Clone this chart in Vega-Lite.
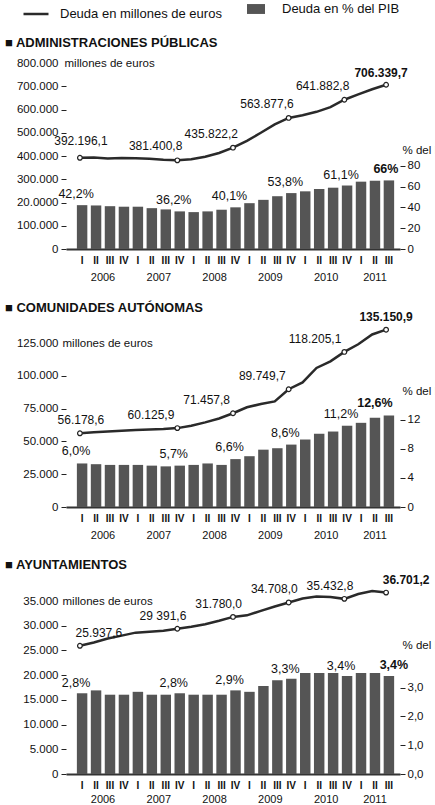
{
  "$schema": "https://vega.github.io/schema/vega-lite/v6.json",
  "autosize": {"type": "pad"},
  "padding": {"left": 5, "top": 0, "right": 0, "bottom": 0},
  "background": "white",
  "bounds": "flush",
  "spacing": 94,
  "config": {
    "font": "Liberation Sans",
    "view": {"stroke": null},
    "locale": {"number": {"decimal": ",", "thousands": ".", "grouping": [3], "currency": ["", " €"]}},
    "axis": {"labelFont": "Liberation Sans", "titleFont": "Liberation Sans", "labelColor": "#111", "titleColor": "#111", "tickColor": "#222", "grid": false},
    "text": {"font": "Liberation Sans", "color": "#111"},
    "title": {"font": "Liberation Sans", "fontSize": 13, "fontWeight": "bold", "color": "#111", "anchor": "start", "frame": "group", "dx": -61}
  },
  "datasets": {
    "admin": [
      {"q":"2006-I","t":"I","a":"2006","deuda":392196.1,"pib":42.2,"etq":"392.196,1","etqPib":"42,2%"},
      {"q":"2006-II","t":"II","a":"2006","deuda":393500,"pib":41.9},
      {"q":"2006-III","t":"III","a":"2006","deuda":389000,"pib":41.2},
      {"q":"2006-IV","t":"IV","a":"2006","deuda":391000,"pib":40.7},
      {"q":"2007-I","t":"I","a":"2007","deuda":390000,"pib":40.7},
      {"q":"2007-II","t":"II","a":"2007","deuda":388500,"pib":39.3},
      {"q":"2007-III","t":"III","a":"2007","deuda":384000,"pib":38.1},
      {"q":"2007-IV","t":"IV","a":"2007","deuda":381400.8,"pib":36.2,"etq":"381.400,8","etqPib":"36,2%"},
      {"q":"2008-I","t":"I","a":"2008","deuda":386000,"pib":35.5},
      {"q":"2008-II","t":"II","a":"2008","deuda":397000,"pib":36.2},
      {"q":"2008-III","t":"III","a":"2008","deuda":413000,"pib":37.8},
      {"q":"2008-IV","t":"IV","a":"2008","deuda":435822.2,"pib":40.1,"etq":"435.822,2","etqPib":"40,1%"},
      {"q":"2009-I","t":"I","a":"2009","deuda":465000,"pib":44.1},
      {"q":"2009-II","t":"II","a":"2009","deuda":500000,"pib":47.3},
      {"q":"2009-III","t":"III","a":"2009","deuda":536000,"pib":50.8},
      {"q":"2009-IV","t":"IV","a":"2009","deuda":563877.6,"pib":53.8,"etq":"563.877,6","etqPib":"53,8%"},
      {"q":"2010-I","t":"I","a":"2010","deuda":575000,"pib":55.5},
      {"q":"2010-II","t":"II","a":"2010","deuda":590000,"pib":57.8},
      {"q":"2010-III","t":"III","a":"2010","deuda":610000,"pib":59.0},
      {"q":"2010-IV","t":"IV","a":"2010","deuda":641882.8,"pib":61.1,"etq":"641.882,8","etqPib":"61,1%"},
      {"q":"2011-I","t":"I","a":"2011","deuda":665000,"pib":64.8},
      {"q":"2011-II","t":"II","a":"2011","deuda":687000,"pib":65.7},
      {"q":"2011-III","t":"III","a":"2011","deuda":706339.7,"pib":66.0,"etq":"706.339,7","etqPib":"66%"}
    ],
    "ccaa": [
      {"q":"2006-I","t":"I","a":"2006","deuda":56178.6,"pib":6.0,"etq":"56.178,6","etqPib":"6,0%"},
      {"q":"2006-II","t":"II","a":"2006","deuda":57000,"pib":5.9},
      {"q":"2006-III","t":"III","a":"2006","deuda":57500,"pib":5.8},
      {"q":"2006-IV","t":"IV","a":"2006","deuda":58200,"pib":5.8},
      {"q":"2007-I","t":"I","a":"2007","deuda":58600,"pib":5.8},
      {"q":"2007-II","t":"II","a":"2007","deuda":59000,"pib":5.7},
      {"q":"2007-III","t":"III","a":"2007","deuda":59400,"pib":5.6},
      {"q":"2007-IV","t":"IV","a":"2007","deuda":60125.9,"pib":5.7,"etq":"60.125,9","etqPib":"5,7%"},
      {"q":"2008-I","t":"I","a":"2008","deuda":62000,"pib":5.8},
      {"q":"2008-II","t":"II","a":"2008","deuda":64500,"pib":6.0},
      {"q":"2008-III","t":"III","a":"2008","deuda":67500,"pib":5.8},
      {"q":"2008-IV","t":"IV","a":"2008","deuda":71457.8,"pib":6.6,"etq":"71.457,8","etqPib":"6,6%"},
      {"q":"2009-I","t":"I","a":"2009","deuda":76000,"pib":7.0},
      {"q":"2009-II","t":"II","a":"2009","deuda":78500,"pib":7.9},
      {"q":"2009-III","t":"III","a":"2009","deuda":80500,"pib":8.1},
      {"q":"2009-IV","t":"IV","a":"2009","deuda":89749.7,"pib":8.6,"etq":"89.749,7","etqPib":"8,6%"},
      {"q":"2010-I","t":"I","a":"2010","deuda":95000,"pib":9.3},
      {"q":"2010-II","t":"II","a":"2010","deuda":106000,"pib":10.1},
      {"q":"2010-III","t":"III","a":"2010","deuda":111000,"pib":10.4},
      {"q":"2010-IV","t":"IV","a":"2010","deuda":118205.1,"pib":11.2,"etq":"118.205,1","etqPib":"11,2%"},
      {"q":"2011-I","t":"I","a":"2011","deuda":124000,"pib":11.6},
      {"q":"2011-II","t":"II","a":"2011","deuda":131500,"pib":12.3},
      {"q":"2011-III","t":"III","a":"2011","deuda":135150.9,"pib":12.6,"etq":"135.150,9","etqPib":"12,6%"}
    ],
    "ayto": [
      {"q":"2006-I","t":"I","a":"2006","deuda":25937.6,"pib":2.8,"etq":"25.937,6","etqPib":"2,8%"},
      {"q":"2006-II","t":"II","a":"2006","deuda":26600,"pib":2.9},
      {"q":"2006-III","t":"III","a":"2006","deuda":27400,"pib":2.75},
      {"q":"2006-IV","t":"IV","a":"2006","deuda":28000,"pib":2.75},
      {"q":"2007-I","t":"I","a":"2007","deuda":28600,"pib":2.85},
      {"q":"2007-II","t":"II","a":"2007","deuda":28800,"pib":2.75},
      {"q":"2007-III","t":"III","a":"2007","deuda":29000,"pib":2.75},
      {"q":"2007-IV","t":"IV","a":"2007","deuda":29391.6,"pib":2.8,"etq":"29 391,6","etqPib":"2,8%"},
      {"q":"2008-I","t":"I","a":"2008","deuda":29800,"pib":2.75},
      {"q":"2008-II","t":"II","a":"2008","deuda":30300,"pib":2.75},
      {"q":"2008-III","t":"III","a":"2008","deuda":31000,"pib":2.75},
      {"q":"2008-IV","t":"IV","a":"2008","deuda":31780.0,"pib":2.9,"etq":"31.780,0","etqPib":"2,9%"},
      {"q":"2009-I","t":"I","a":"2009","deuda":32100,"pib":2.85},
      {"q":"2009-II","t":"II","a":"2009","deuda":33000,"pib":3.05},
      {"q":"2009-III","t":"III","a":"2009","deuda":33900,"pib":3.25},
      {"q":"2009-IV","t":"IV","a":"2009","deuda":34708.0,"pib":3.3,"etq":"34.708,0","etqPib":"3,3%"},
      {"q":"2010-I","t":"I","a":"2010","deuda":35500,"pib":3.5},
      {"q":"2010-II","t":"II","a":"2010","deuda":35900,"pib":3.5},
      {"q":"2010-III","t":"III","a":"2010","deuda":35800,"pib":3.5},
      {"q":"2010-IV","t":"IV","a":"2010","deuda":35432.8,"pib":3.4,"etq":"35.432,8","etqPib":"3,4%"},
      {"q":"2011-I","t":"I","a":"2011","deuda":36400,"pib":3.5},
      {"q":"2011-II","t":"II","a":"2011","deuda":37000,"pib":3.5},
      {"q":"2011-III","t":"III","a":"2011","deuda":36701.2,"pib":3.4,"etq":"36.701,2","etqPib":"3,4%"}
    ]
  },
  "vconcat": [
    {
      "width": 334, "height": 186,
      "title": {"text": "■ ADMINISTRACIONES PÚBLICAS", "offset": 7},
      "data": {"name": "admin"},
      "resolve": {"scale": {"x": "independent", "y": "independent"}},
      "layer": [
        {
          "mark": {"type": "bar", "color": "#555"},
          "encoding": {
            "x": {"field": "q", "type": "nominal", "scale": {"type": "band", "domain": ["2006-I","2006-II","2006-III","2006-IV","2007-I","2007-II","2007-III","2007-IV","2008-I","2008-II","2008-III","2008-IV","2009-I","2009-II","2009-III","2009-IV","2010-I","2010-II","2010-III","2010-IV","2011-I","2011-II","2011-III"], "paddingInner": 0.25, "paddingOuter": 0.6, "align": 0.65},
              "axis": {"title": null, "labelExpr": "split(datum.value, '-')[1]", "ticks": false, "domain": true, "domainColor": "#333", "domainWidth": 2, "labelPadding": 6, "labelFontSize": 10, "labelFontWeight": "bold", "labelAngle": 0}},
            "y": {"field": "pib", "type": "quantitative", "scale": {"domain": [0, 179], "nice": false},
              "axis": {"orient": "right", "values": [0, 20, 40, 60, 80], "format": "d", "title": "% del PIB", "titleAngle": 0, "titleAlign": "left", "titleBaseline": "middle", "titleX": 2, "titleY": 87, "titleFontSize": 11.5, "titleFontWeight": "normal", "domain": false, "tickSize": 5, "labelPadding": 2, "labelFontSize": 11.5}},
            "fill": {"datum": "Deuda en % del PIB", "type": "nominal", "scale": {"range": ["#555"]},
              "legend": {"orient": "none", "legendX": 181, "legendY": -63, "title": null, "symbolType": "M-1,-0.55H1V0.55H-1Z", "symbolSize": 324, "symbolStrokeWidth": 0, "labelFontSize": 13, "labelOffset": 17, "labelLimit": 300, "labelColor": "#111", "labelFont": "Liberation Sans"}}
          }
        },
        {
          "transform": [{"filter": "datum.etqPib && datum.q != '2011-III'"}],
          "mark": {"type": "text", "align": "center", "baseline": "middle", "dx": -6, "dy": -11, "fontSize": 12.5},
          "encoding": {
            "x": {"field": "q", "type": "nominal", "scale": {"type": "band", "domain": ["2006-I","2006-II","2006-III","2006-IV","2007-I","2007-II","2007-III","2007-IV","2008-I","2008-II","2008-III","2008-IV","2009-I","2009-II","2009-III","2009-IV","2010-I","2010-II","2010-III","2010-IV","2011-I","2011-II","2011-III"], "paddingInner": 0.25, "paddingOuter": 0.6, "align": 0.65}, "axis": null},
            "y": {"field": "pib", "type": "quantitative", "scale": {"domain": [0, 179], "nice": false}, "axis": null},
            "text": {"field": "etqPib"}
          }
        },
        {
          "transform": [{"filter": "datum.q == '2011-III'"}],
          "mark": {"type": "text", "align": "center", "baseline": "middle", "dx": -3, "dy": -11, "fontSize": 12.5, "fontWeight": "bold"},
          "encoding": {
            "x": {"field": "q", "type": "nominal", "scale": {"type": "band", "domain": ["2006-I","2006-II","2006-III","2006-IV","2007-I","2007-II","2007-III","2007-IV","2008-I","2008-II","2008-III","2008-IV","2009-I","2009-II","2009-III","2009-IV","2010-I","2010-II","2010-III","2010-IV","2011-I","2011-II","2011-III"], "paddingInner": 0.25, "paddingOuter": 0.6, "align": 0.65}, "axis": null},
            "y": {"field": "pib", "type": "quantitative", "scale": {"domain": [0, 179], "nice": false}, "axis": null},
            "text": {"field": "etqPib"}
          }
        },
        {
          "transform": [{"filter": "datum.t == 'III' && datum.a != '2011'"}],
          "mark": {"type": "text", "align": "center", "baseline": "middle", "dx": -7, "dy": 29, "fontSize": 11},
          "encoding": {
            "x": {"field": "q", "type": "nominal", "scale": {"type": "band", "domain": ["2006-I","2006-II","2006-III","2006-IV","2007-I","2007-II","2007-III","2007-IV","2008-I","2008-II","2008-III","2008-IV","2009-I","2009-II","2009-III","2009-IV","2010-I","2010-II","2010-III","2010-IV","2011-I","2011-II","2011-III"], "paddingInner": 0.25, "paddingOuter": 0.6, "align": 0.65}, "axis": null},
            "y": {"datum": 0, "type": "quantitative", "scale": {"domain": [0, 179], "nice": false}, "axis": null},
            "text": {"field": "a"}
          }
        },
        {
          "transform": [{"filter": "datum.q == '2011-II'"}],
          "mark": {"type": "text", "align": "center", "baseline": "middle", "dy": 29, "fontSize": 11},
          "encoding": {
            "x": {"field": "q", "type": "nominal", "scale": {"type": "band", "domain": ["2006-I","2006-II","2006-III","2006-IV","2007-I","2007-II","2007-III","2007-IV","2008-I","2008-II","2008-III","2008-IV","2009-I","2009-II","2009-III","2009-IV","2010-I","2010-II","2010-III","2010-IV","2011-I","2011-II","2011-III"], "paddingInner": 0.25, "paddingOuter": 0.6, "align": 0.65}, "axis": null},
            "y": {"datum": 0, "type": "quantitative", "scale": {"domain": [0, 179], "nice": false}, "axis": null},
            "text": {"field": "a"}
          }
        },
        {
          "mark": {"type": "line", "strokeWidth": 2.5, "color": "#2a2a2a"},
          "encoding": {
            "x": {"field": "q", "type": "nominal", "scale": {"type": "point", "domain": ["2006-I","2006-II","2006-III","2006-IV","2007-I","2007-II","2007-III","2007-IV","2008-I","2008-II","2008-III","2008-IV","2009-I","2009-II","2009-III","2009-IV","2010-I","2010-II","2010-III","2010-IV","2011-I","2011-II","2011-III"], "padding": 1.33}, "axis": null},
            "y": {"field": "deuda", "type": "quantitative", "scale": {"domain": [0, 800000], "nice": false},
              "axis": {"orient": "left", "values": [0, 100000, 200000, 300000, 400000, 500000, 600000, 700000, 800000], "format": ",.0f", "labelExpr": "datum.value == 200000 ? '20.0000' : datum.label", "title": "millones de euros", "titleAngle": 0, "titleAlign": "left", "titleBaseline": "middle", "titleX": -2, "titleY": 0, "titleFontSize": 11.5, "titleFontWeight": "normal", "domain": false, "tickSize": 5, "labelPadding": 3, "labelFontSize": 11.5, "tickOpacity": {"condition": {"test": "datum.value == 800000", "value": 0}, "value": 1}}},
            "stroke": {"datum": "Deuda en millones de euros", "type": "nominal", "scale": {"range": ["#2a2a2a"]},
              "legend": {"orient": "none", "legendX": -44, "legendY": -63, "title": null, "symbolType": "stroke", "symbolSize": 625, "symbolStrokeWidth": 2.5, "labelFontSize": 13, "labelOffset": 10, "labelLimit": 300, "labelColor": "#111", "labelFont": "Liberation Sans"}}
          }
        },
        {
          "transform": [{"filter": "datum.etq"}],
          "mark": {"type": "point", "shape": "circle", "filled": true, "fill": "white", "stroke": "#222", "strokeWidth": 1.2, "size": 22, "opacity": 1},
          "encoding": {
            "x": {"field": "q", "type": "nominal", "scale": {"type": "point", "domain": ["2006-I","2006-II","2006-III","2006-IV","2007-I","2007-II","2007-III","2007-IV","2008-I","2008-II","2008-III","2008-IV","2009-I","2009-II","2009-III","2009-IV","2010-I","2010-II","2010-III","2010-IV","2011-I","2011-II","2011-III"], "padding": 1.33}, "axis": null},
            "y": {"field": "deuda", "type": "quantitative", "scale": {"domain": [0, 800000], "nice": false}, "axis": null}
          }
        },
        {
          "transform": [{"filter": "datum.etq && datum.q != '2006-I' && datum.q != '2011-III'"}],
          "mark": {"type": "text", "align": "right", "baseline": "middle", "dx": 5, "dy": -14, "fontSize": 12},
          "encoding": {
            "x": {"field": "q", "type": "nominal", "scale": {"type": "point", "domain": ["2006-I","2006-II","2006-III","2006-IV","2007-I","2007-II","2007-III","2007-IV","2008-I","2008-II","2008-III","2008-IV","2009-I","2009-II","2009-III","2009-IV","2010-I","2010-II","2010-III","2010-IV","2011-I","2011-II","2011-III"], "padding": 1.33}, "axis": null},
            "y": {"field": "deuda", "type": "quantitative", "scale": {"domain": [0, 800000], "nice": false}, "axis": null},
            "text": {"field": "etq"}
          }
        },
        {
          "transform": [{"filter": "datum.q == '2006-I'"}],
          "mark": {"type": "text", "align": "center", "baseline": "middle", "dx": 1, "dy": -17, "fontSize": 12},
          "encoding": {
            "x": {"field": "q", "type": "nominal", "scale": {"type": "point", "domain": ["2006-I","2006-II","2006-III","2006-IV","2007-I","2007-II","2007-III","2007-IV","2008-I","2008-II","2008-III","2008-IV","2009-I","2009-II","2009-III","2009-IV","2010-I","2010-II","2010-III","2010-IV","2011-I","2011-II","2011-III"], "padding": 1.33}, "axis": null},
            "y": {"field": "deuda", "type": "quantitative", "scale": {"domain": [0, 800000], "nice": false}, "axis": null},
            "text": {"field": "etq"}
          }
        },
        {
          "transform": [{"filter": "datum.q == '2011-III'"}],
          "mark": {"type": "text", "align": "center", "baseline": "middle", "dx": -5, "dy": -12, "fontSize": 12, "fontWeight": "bold"},
          "encoding": {
            "x": {"field": "q", "type": "nominal", "scale": {"type": "point", "domain": ["2006-I","2006-II","2006-III","2006-IV","2007-I","2007-II","2007-III","2007-IV","2008-I","2008-II","2008-III","2008-IV","2009-I","2009-II","2009-III","2009-IV","2010-I","2010-II","2010-III","2010-IV","2011-I","2011-II","2011-III"], "padding": 1.33}, "axis": null},
            "y": {"field": "deuda", "type": "quantitative", "scale": {"domain": [0, 800000], "nice": false}, "axis": null},
            "text": {"field": "etq"}
          }
        }
      ]
    },
    {
      "width": 334, "height": 164,
      "title": {"text": "■ COMUNIDADES AUTÓNOMAS", "offset": -4},
      "data": {"name": "ccaa"},
      "resolve": {"scale": {"x": "independent", "y": "independent"}},
      "layer": [
        {
          "mark": {"type": "bar", "color": "#555"},
          "encoding": {
            "x": {"field": "q", "type": "nominal", "scale": {"type": "band", "domain": ["2006-I","2006-II","2006-III","2006-IV","2007-I","2007-II","2007-III","2007-IV","2008-I","2008-II","2008-III","2008-IV","2009-I","2009-II","2009-III","2009-IV","2010-I","2010-II","2010-III","2010-IV","2011-I","2011-II","2011-III"], "paddingInner": 0.25, "paddingOuter": 0.6, "align": 0.65},
              "axis": {"title": null, "labelExpr": "split(datum.value, '-')[1]", "ticks": false, "domain": true, "domainColor": "#333", "domainWidth": 2, "labelPadding": 6, "labelFontSize": 10, "labelFontWeight": "bold", "labelAngle": 0}},
            "y": {"field": "pib", "type": "quantitative", "scale": {"domain": [0, 22.6], "nice": false},
              "axis": {"orient": "right", "values": [0, 4, 8, 12], "format": "d", "title": "% del PIB", "titleAngle": 0, "titleAlign": "left", "titleBaseline": "middle", "titleX": 2, "titleY": 48, "titleFontSize": 11.5, "titleFontWeight": "normal", "domain": false, "tickSize": 5, "labelPadding": 2, "labelFontSize": 11.5}}
          }
        },
        {
          "transform": [{"filter": "datum.etqPib && datum.q != '2011-III'"}],
          "mark": {"type": "text", "align": "center", "baseline": "middle", "dx": -6, "dy": -12, "fontSize": 12.5},
          "encoding": {
            "x": {"field": "q", "type": "nominal", "scale": {"type": "band", "domain": ["2006-I","2006-II","2006-III","2006-IV","2007-I","2007-II","2007-III","2007-IV","2008-I","2008-II","2008-III","2008-IV","2009-I","2009-II","2009-III","2009-IV","2010-I","2010-II","2010-III","2010-IV","2011-I","2011-II","2011-III"], "paddingInner": 0.25, "paddingOuter": 0.6, "align": 0.65}, "axis": null},
            "y": {"field": "pib", "type": "quantitative", "scale": {"domain": [0, 22.6], "nice": false}, "axis": null},
            "text": {"field": "etqPib"}
          }
        },
        {
          "transform": [{"filter": "datum.q == '2011-III'"}],
          "mark": {"type": "text", "align": "center", "baseline": "middle", "dx": -14, "dy": -13, "fontSize": 12.5, "fontWeight": "bold"},
          "encoding": {
            "x": {"field": "q", "type": "nominal", "scale": {"type": "band", "domain": ["2006-I","2006-II","2006-III","2006-IV","2007-I","2007-II","2007-III","2007-IV","2008-I","2008-II","2008-III","2008-IV","2009-I","2009-II","2009-III","2009-IV","2010-I","2010-II","2010-III","2010-IV","2011-I","2011-II","2011-III"], "paddingInner": 0.25, "paddingOuter": 0.6, "align": 0.65}, "axis": null},
            "y": {"field": "pib", "type": "quantitative", "scale": {"domain": [0, 22.6], "nice": false}, "axis": null},
            "text": {"field": "etqPib"}
          }
        },
        {
          "transform": [{"filter": "datum.t == 'III' && datum.a != '2011'"}],
          "mark": {"type": "text", "align": "center", "baseline": "middle", "dx": -7, "dy": 29, "fontSize": 11},
          "encoding": {
            "x": {"field": "q", "type": "nominal", "scale": {"type": "band", "domain": ["2006-I","2006-II","2006-III","2006-IV","2007-I","2007-II","2007-III","2007-IV","2008-I","2008-II","2008-III","2008-IV","2009-I","2009-II","2009-III","2009-IV","2010-I","2010-II","2010-III","2010-IV","2011-I","2011-II","2011-III"], "paddingInner": 0.25, "paddingOuter": 0.6, "align": 0.65}, "axis": null},
            "y": {"datum": 0, "type": "quantitative", "scale": {"domain": [0, 22.6], "nice": false}, "axis": null},
            "text": {"field": "a"}
          }
        },
        {
          "transform": [{"filter": "datum.q == '2011-II'"}],
          "mark": {"type": "text", "align": "center", "baseline": "middle", "dy": 29, "fontSize": 11},
          "encoding": {
            "x": {"field": "q", "type": "nominal", "scale": {"type": "band", "domain": ["2006-I","2006-II","2006-III","2006-IV","2007-I","2007-II","2007-III","2007-IV","2008-I","2008-II","2008-III","2008-IV","2009-I","2009-II","2009-III","2009-IV","2010-I","2010-II","2010-III","2010-IV","2011-I","2011-II","2011-III"], "paddingInner": 0.25, "paddingOuter": 0.6, "align": 0.65}, "axis": null},
            "y": {"datum": 0, "type": "quantitative", "scale": {"domain": [0, 22.6], "nice": false}, "axis": null},
            "text": {"field": "a"}
          }
        },
        {
          "mark": {"type": "line", "strokeWidth": 2.5, "color": "#2a2a2a"},
          "encoding": {
            "x": {"field": "q", "type": "nominal", "scale": {"type": "point", "domain": ["2006-I","2006-II","2006-III","2006-IV","2007-I","2007-II","2007-III","2007-IV","2008-I","2008-II","2008-III","2008-IV","2009-I","2009-II","2009-III","2009-IV","2010-I","2010-II","2010-III","2010-IV","2011-I","2011-II","2011-III"], "padding": 1.33}, "axis": null},
            "y": {"field": "deuda", "type": "quantitative", "scale": {"domain": [0, 125000], "nice": false},
              "axis": {"orient": "left", "values": [0, 25000, 50000, 75000, 100000, 125000], "format": ",.0f", "title": "millones de euros", "titleAngle": 0, "titleAlign": "left", "titleBaseline": "middle", "titleX": -4, "titleY": 0, "titleFontSize": 11.5, "titleFontWeight": "normal", "domain": false, "tickSize": 5, "labelPadding": 3, "labelFontSize": 11.5, "tickOpacity": {"condition": {"test": "datum.value == 125000", "value": 0}, "value": 1}}}
          }
        },
        {
          "transform": [{"filter": "datum.etq"}],
          "mark": {"type": "point", "shape": "circle", "filled": true, "fill": "white", "stroke": "#222", "strokeWidth": 1.2, "size": 22, "opacity": 1},
          "encoding": {
            "x": {"field": "q", "type": "nominal", "scale": {"type": "point", "domain": ["2006-I","2006-II","2006-III","2006-IV","2007-I","2007-II","2007-III","2007-IV","2008-I","2008-II","2008-III","2008-IV","2009-I","2009-II","2009-III","2009-IV","2010-I","2010-II","2010-III","2010-IV","2011-I","2011-II","2011-III"], "padding": 1.33}, "axis": null},
            "y": {"field": "deuda", "type": "quantitative", "scale": {"domain": [0, 125000], "nice": false}, "axis": null}
          }
        },
        {
          "transform": [{"filter": "datum.etq && datum.q != '2006-I' && datum.q != '2011-III'"}],
          "mark": {"type": "text", "align": "right", "baseline": "middle", "dx": -3, "dy": -13, "fontSize": 12},
          "encoding": {
            "x": {"field": "q", "type": "nominal", "scale": {"type": "point", "domain": ["2006-I","2006-II","2006-III","2006-IV","2007-I","2007-II","2007-III","2007-IV","2008-I","2008-II","2008-III","2008-IV","2009-I","2009-II","2009-III","2009-IV","2010-I","2010-II","2010-III","2010-IV","2011-I","2011-II","2011-III"], "padding": 1.33}, "axis": null},
            "y": {"field": "deuda", "type": "quantitative", "scale": {"domain": [0, 125000], "nice": false}, "axis": null},
            "text": {"field": "etq"}
          }
        },
        {
          "transform": [{"filter": "datum.q == '2006-I'"}],
          "mark": {"type": "text", "align": "center", "baseline": "middle", "dx": 1, "dy": -13, "fontSize": 12},
          "encoding": {
            "x": {"field": "q", "type": "nominal", "scale": {"type": "point", "domain": ["2006-I","2006-II","2006-III","2006-IV","2007-I","2007-II","2007-III","2007-IV","2008-I","2008-II","2008-III","2008-IV","2009-I","2009-II","2009-III","2009-IV","2010-I","2010-II","2010-III","2010-IV","2011-I","2011-II","2011-III"], "padding": 1.33}, "axis": null},
            "y": {"field": "deuda", "type": "quantitative", "scale": {"domain": [0, 125000], "nice": false}, "axis": null},
            "text": {"field": "etq"}
          }
        },
        {
          "transform": [{"filter": "datum.q == '2011-III'"}],
          "mark": {"type": "text", "align": "center", "baseline": "middle", "dx": 0, "dy": -13, "fontSize": 12, "fontWeight": "bold"},
          "encoding": {
            "x": {"field": "q", "type": "nominal", "scale": {"type": "point", "domain": ["2006-I","2006-II","2006-III","2006-IV","2007-I","2007-II","2007-III","2007-IV","2008-I","2008-II","2008-III","2008-IV","2009-I","2009-II","2009-III","2009-IV","2010-I","2010-II","2010-III","2010-IV","2011-I","2011-II","2011-III"], "padding": 1.33}, "axis": null},
            "y": {"field": "deuda", "type": "quantitative", "scale": {"domain": [0, 125000], "nice": false}, "axis": null},
            "text": {"field": "etq"}
          }
        }
      ]
    },
    {
      "width": 334, "height": 173,
      "title": {"text": "■ AYUNTAMIENTOS", "offset": 2},
      "data": {"name": "ayto"},
      "resolve": {"scale": {"x": "independent", "y": "independent"}},
      "layer": [
        {
          "mark": {"type": "bar", "color": "#555"},
          "encoding": {
            "x": {"field": "q", "type": "nominal", "scale": {"type": "band", "domain": ["2006-I","2006-II","2006-III","2006-IV","2007-I","2007-II","2007-III","2007-IV","2008-I","2008-II","2008-III","2008-IV","2009-I","2009-II","2009-III","2009-IV","2010-I","2010-II","2010-III","2010-IV","2011-I","2011-II","2011-III"], "paddingInner": 0.25, "paddingOuter": 0.6, "align": 0.65},
              "axis": {"title": null, "labelExpr": "split(datum.value, '-')[1]", "ticks": false, "domain": true, "domainColor": "#333", "domainWidth": 2, "labelPadding": 6, "labelFontSize": 10, "labelFontWeight": "bold", "labelAngle": 0}},
            "y": {"field": "pib", "type": "quantitative", "scale": {"domain": [0, 6], "nice": false},
              "axis": {"orient": "right", "values": [0, 1, 2, 3], "format": ".1f", "title": "% del PIB", "titleAngle": 0, "titleAlign": "left", "titleBaseline": "middle", "titleX": 2, "titleY": 44, "titleFontSize": 11.5, "titleFontWeight": "normal", "domain": false, "tickSize": 5, "labelPadding": 2, "labelFontSize": 11.5}}
          }
        },
        {
          "transform": [{"filter": "datum.etqPib && datum.q != '2011-III'"}],
          "mark": {"type": "text", "align": "center", "baseline": "middle", "dx": -6, "dy": -10, "fontSize": 12.5},
          "encoding": {
            "x": {"field": "q", "type": "nominal", "scale": {"type": "band", "domain": ["2006-I","2006-II","2006-III","2006-IV","2007-I","2007-II","2007-III","2007-IV","2008-I","2008-II","2008-III","2008-IV","2009-I","2009-II","2009-III","2009-IV","2010-I","2010-II","2010-III","2010-IV","2011-I","2011-II","2011-III"], "paddingInner": 0.25, "paddingOuter": 0.6, "align": 0.65}, "axis": null},
            "y": {"field": "pib", "type": "quantitative", "scale": {"domain": [0, 6], "nice": false}, "axis": null},
            "text": {"field": "etqPib"}
          }
        },
        {
          "transform": [{"filter": "datum.q == '2011-III'"}],
          "mark": {"type": "text", "align": "center", "baseline": "middle", "dx": 5, "dy": -11, "fontSize": 12.5, "fontWeight": "bold"},
          "encoding": {
            "x": {"field": "q", "type": "nominal", "scale": {"type": "band", "domain": ["2006-I","2006-II","2006-III","2006-IV","2007-I","2007-II","2007-III","2007-IV","2008-I","2008-II","2008-III","2008-IV","2009-I","2009-II","2009-III","2009-IV","2010-I","2010-II","2010-III","2010-IV","2011-I","2011-II","2011-III"], "paddingInner": 0.25, "paddingOuter": 0.6, "align": 0.65}, "axis": null},
            "y": {"field": "pib", "type": "quantitative", "scale": {"domain": [0, 6], "nice": false}, "axis": null},
            "text": {"field": "etqPib"}
          }
        },
        {
          "transform": [{"filter": "datum.t == 'III' && datum.a != '2011'"}],
          "mark": {"type": "text", "align": "center", "baseline": "middle", "dx": -7, "dy": 26, "fontSize": 11},
          "encoding": {
            "x": {"field": "q", "type": "nominal", "scale": {"type": "band", "domain": ["2006-I","2006-II","2006-III","2006-IV","2007-I","2007-II","2007-III","2007-IV","2008-I","2008-II","2008-III","2008-IV","2009-I","2009-II","2009-III","2009-IV","2010-I","2010-II","2010-III","2010-IV","2011-I","2011-II","2011-III"], "paddingInner": 0.25, "paddingOuter": 0.6, "align": 0.65}, "axis": null},
            "y": {"datum": 0, "type": "quantitative", "scale": {"domain": [0, 6], "nice": false}, "axis": null},
            "text": {"field": "a"}
          }
        },
        {
          "transform": [{"filter": "datum.q == '2011-II'"}],
          "mark": {"type": "text", "align": "center", "baseline": "middle", "dy": 26, "fontSize": 11},
          "encoding": {
            "x": {"field": "q", "type": "nominal", "scale": {"type": "band", "domain": ["2006-I","2006-II","2006-III","2006-IV","2007-I","2007-II","2007-III","2007-IV","2008-I","2008-II","2008-III","2008-IV","2009-I","2009-II","2009-III","2009-IV","2010-I","2010-II","2010-III","2010-IV","2011-I","2011-II","2011-III"], "paddingInner": 0.25, "paddingOuter": 0.6, "align": 0.65}, "axis": null},
            "y": {"datum": 0, "type": "quantitative", "scale": {"domain": [0, 6], "nice": false}, "axis": null},
            "text": {"field": "a"}
          }
        },
        {
          "mark": {"type": "line", "strokeWidth": 2.5, "color": "#2a2a2a"},
          "encoding": {
            "x": {"field": "q", "type": "nominal", "scale": {"type": "point", "domain": ["2006-I","2006-II","2006-III","2006-IV","2007-I","2007-II","2007-III","2007-IV","2008-I","2008-II","2008-III","2008-IV","2009-I","2009-II","2009-III","2009-IV","2010-I","2010-II","2010-III","2010-IV","2011-I","2011-II","2011-III"], "padding": 1.33}, "axis": null},
            "y": {"field": "deuda", "type": "quantitative", "scale": {"domain": [0, 35000], "nice": false},
              "axis": {"orient": "left", "values": [0, 5000, 10000, 15000, 20000, 25000, 30000, 35000], "format": ",.0f", "title": "millones de euros", "titleAngle": 0, "titleAlign": "left", "titleBaseline": "middle", "titleX": -4, "titleY": 0, "titleFontSize": 11.5, "titleFontWeight": "normal", "domain": false, "tickSize": 5, "labelPadding": 3, "labelFontSize": 11.5, "tickOpacity": {"condition": {"test": "datum.value == 35000", "value": 0}, "value": 1}}}
          }
        },
        {
          "transform": [{"filter": "datum.etq"}],
          "mark": {"type": "point", "shape": "circle", "filled": true, "fill": "white", "stroke": "#222", "strokeWidth": 1.2, "size": 22, "opacity": 1},
          "encoding": {
            "x": {"field": "q", "type": "nominal", "scale": {"type": "point", "domain": ["2006-I","2006-II","2006-III","2006-IV","2007-I","2007-II","2007-III","2007-IV","2008-I","2008-II","2008-III","2008-IV","2009-I","2009-II","2009-III","2009-IV","2010-I","2010-II","2010-III","2010-IV","2011-I","2011-II","2011-III"], "padding": 1.33}, "axis": null},
            "y": {"field": "deuda", "type": "quantitative", "scale": {"domain": [0, 35000], "nice": false}, "axis": null}
          }
        },
        {
          "transform": [{"filter": "datum.etq && datum.q != '2006-I' && datum.q != '2011-III'"}],
          "mark": {"type": "text", "align": "right", "baseline": "middle", "dx": 9, "dy": -13, "fontSize": 12},
          "encoding": {
            "x": {"field": "q", "type": "nominal", "scale": {"type": "point", "domain": ["2006-I","2006-II","2006-III","2006-IV","2007-I","2007-II","2007-III","2007-IV","2008-I","2008-II","2008-III","2008-IV","2009-I","2009-II","2009-III","2009-IV","2010-I","2010-II","2010-III","2010-IV","2011-I","2011-II","2011-III"], "padding": 1.33}, "axis": null},
            "y": {"field": "deuda", "type": "quantitative", "scale": {"domain": [0, 35000], "nice": false}, "axis": null},
            "text": {"field": "etq"}
          }
        },
        {
          "transform": [{"filter": "datum.q == '2006-I'"}],
          "mark": {"type": "text", "align": "center", "baseline": "middle", "dx": 19, "dy": -13, "fontSize": 12},
          "encoding": {
            "x": {"field": "q", "type": "nominal", "scale": {"type": "point", "domain": ["2006-I","2006-II","2006-III","2006-IV","2007-I","2007-II","2007-III","2007-IV","2008-I","2008-II","2008-III","2008-IV","2009-I","2009-II","2009-III","2009-IV","2010-I","2010-II","2010-III","2010-IV","2011-I","2011-II","2011-III"], "padding": 1.33}, "axis": null},
            "y": {"field": "deuda", "type": "quantitative", "scale": {"domain": [0, 35000], "nice": false}, "axis": null},
            "text": {"field": "etq"}
          }
        },
        {
          "transform": [{"filter": "datum.q == '2011-III'"}],
          "mark": {"type": "text", "align": "center", "baseline": "middle", "dx": 20, "dy": -13, "fontSize": 12, "fontWeight": "bold"},
          "encoding": {
            "x": {"field": "q", "type": "nominal", "scale": {"type": "point", "domain": ["2006-I","2006-II","2006-III","2006-IV","2007-I","2007-II","2007-III","2007-IV","2008-I","2008-II","2008-III","2008-IV","2009-I","2009-II","2009-III","2009-IV","2010-I","2010-II","2010-III","2010-IV","2011-I","2011-II","2011-III"], "padding": 1.33}, "axis": null},
            "y": {"field": "deuda", "type": "quantitative", "scale": {"domain": [0, 35000], "nice": false}, "axis": null},
            "text": {"field": "etq"}
          }
        }
      ]
    }
  ]
}
